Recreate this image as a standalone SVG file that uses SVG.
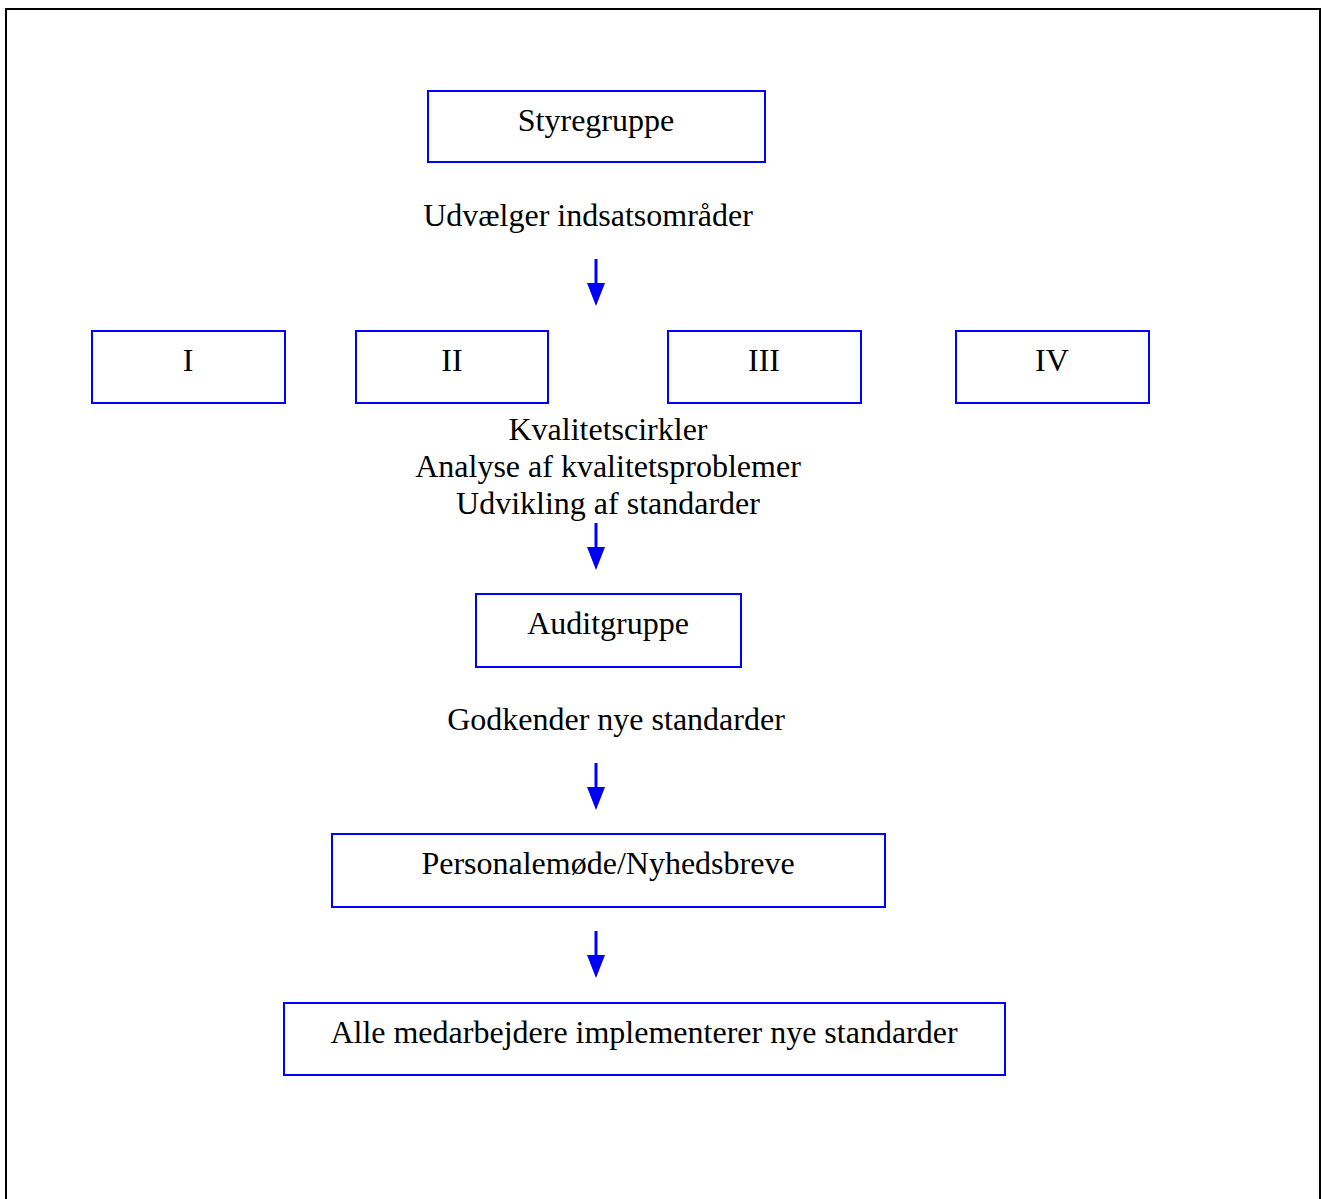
<svg xmlns="http://www.w3.org/2000/svg" width="1321" height="1199" viewBox="0 0 1321 1199">
<style>
.box{fill:#fff;stroke:#0000ff;stroke-width:2}
.t{font-family:"Liberation Serif","Times New Roman",serif;font-size:32px;fill:#000;text-anchor:middle}
.sh{stroke:#0000ff;stroke-width:3;fill:none}
.hd{fill:#0000ff}
</style>
<rect x="0" y="0" width="1321" height="1199" fill="#fff"/>
<path d="M6,1199 V9 H1320 V1199" fill="none" stroke="#000" stroke-width="2"/>
<g id="styregruppe"><rect class="box" x="428" y="91" width="337" height="71"/><text class="t" x="596" y="131">Styregruppe</text></g>
<g id="lbl-udvaelger"><text class="t" x="588" y="226">Udvælger indsatsområder</text></g>
<g id="kc-I"><rect class="box" x="92" y="331" width="193" height="72"/><text class="t" x="188" y="371">I</text></g>
<g id="kc-II"><rect class="box" x="356" y="331" width="192" height="72"/><text class="t" x="452" y="371">II</text></g>
<g id="kc-III"><rect class="box" x="668" y="331" width="193" height="72"/><text class="t" x="764" y="371">III</text></g>
<g id="kc-IV"><rect class="box" x="956" y="331" width="193" height="72"/><text class="t" x="1052" y="371">IV</text></g>
<g id="lbl-kvalitet"><text class="t" x="608" y="440">Kvalitetscirkler</text><text class="t" x="608" y="477">Analyse af kvalitetsproblemer</text><text class="t" x="608" y="514">Udvikling af standarder</text></g>
<g id="auditgruppe"><rect class="box" x="476" y="594" width="265" height="73"/><text class="t" x="608" y="634">Auditgruppe</text></g>
<g id="lbl-godkender"><text class="t" x="616" y="730">Godkender nye standarder</text></g>
<g id="personalemoede"><rect class="box" x="332" y="834" width="553" height="73"/><text class="t" x="608" y="874">Personalemøde/Nyhedsbreve</text></g>
<g id="alle"><rect class="box" x="284" y="1003" width="721" height="72"/><text class="t" x="644" y="1043">Alle medarbejdere implementerer nye standarder</text></g>
<g id="connectors">
<line class="sh" x1="596" y1="259" x2="596" y2="284"/><polygon class="hd" points="587,283 605,283 596,306"/>
<line class="sh" x1="596" y1="523" x2="596" y2="548"/><polygon class="hd" points="587,547 605,547 596,570"/>
<line class="sh" x1="596" y1="763" x2="596" y2="788"/><polygon class="hd" points="587,787 605,787 596,810"/>
<line class="sh" x1="596" y1="931" x2="596" y2="956"/><polygon class="hd" points="587,955 605,955 596,978"/>
</g>
</svg>
